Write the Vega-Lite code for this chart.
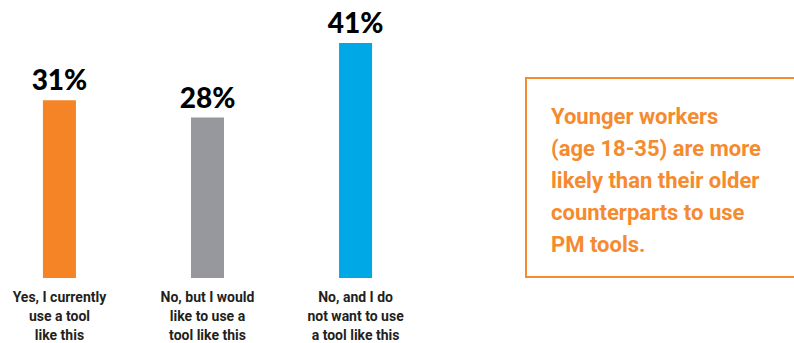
{
  "$schema": "https://vega.github.io/schema/vega-lite/v6.json",
  "padding": 0,
  "spacing": 108,
  "config": {"view": {"stroke": null}, "font": "Roboto"},
  "hconcat": [
    {
      "width": 415,
      "height": 278,
      "data": {"values": [
        {"answer": "Yes, I currently|use a tool|like this", "pct": 31, "color": "#F58426"},
        {"answer": "No, but I would|like to use a|tool like this", "pct": 28, "color": "#97989E"},
        {"answer": "No, and I do|not want to use|a tool like this", "pct": 41, "color": "#00A9E6"}
      ]},
      "encoding": {
        "x": {
          "field": "answer", "type": "nominal", "sort": null,
          "scale": {"paddingInner": 0.777, "paddingOuter": 0.29},
          "axis": {
            "title": null, "labelAngle": 0, "ticks": false, "domain": false,
            "labelExpr": "split(datum.value, '|')",
            "labelFont": "Roboto", "labelFontSize": 14, "labelFontWeight": "bold",
            "labelColor": "#231F20", "labelLineHeight": 19, "labelPadding": 12,
            "labelLimit": 0
          }
        },
        "y": {"field": "pct", "type": "quantitative", "scale": {"domain": [0, 48.5], "nice": false}, "axis": null}
      },
      "layer": [
        {"mark": {"type": "bar"}, "encoding": {"color": {"field": "color", "type": "nominal", "scale": null}}},
        {"mark": {"type": "text", "dy": -10, "baseline": "alphabetic", "font": "Lato", "fontWeight": 900, "fontSize": 28, "color": "#000000"},
         "encoding": {"text": {"field": "label"}},
         "transform": [{"calculate": "datum.pct + '%'", "as": "label"}]}
      ]
    },
    {
      "width": 271,
      "height": 278,
      "data": {"values": [
        {"line": 1, "text": "Younger workers"},
        {"line": 2, "text": "(age 18-35) are more"},
        {"line": 3, "text": "likely than their older"},
        {"line": 4, "text": "counterparts to use"},
        {"line": 5, "text": "PM tools."}
      ]},
      "layer": [
        {
          "mark": {"type": "rect", "fill": null, "stroke": "#F58A2E", "strokeWidth": 2, "clip": true},
          "encoding": {
            "x": {"datum": 3, "type": "quantitative", "scale": {"domain": [0, 271], "nice": false, "zero": false}, "axis": null},
            "x2": {"datum": 300},
            "y": {"datum": 78, "type": "quantitative", "scale": {"domain": [0, 278], "reverse": true, "nice": false, "zero": false}, "axis": null},
            "y2": {"datum": 277}
          }
        },
        {
          "mark": {"type": "text", "align": "left", "baseline": "middle", "font": "Roboto", "fontWeight": "bold", "fontSize": 22, "color": "#F58A2E"},
          "encoding": {
            "x": {"datum": 28, "type": "quantitative"},
            "y": {"field": "line", "type": "quantitative", "scale": {"domain": [-2.656, 6.031], "reverse": true, "nice": false, "zero": false}, "axis": null},
            "text": {"field": "text"}
          }
        }
      ],
      "resolve": {"scale": {"y": "independent"}}
    }
  ]
}
